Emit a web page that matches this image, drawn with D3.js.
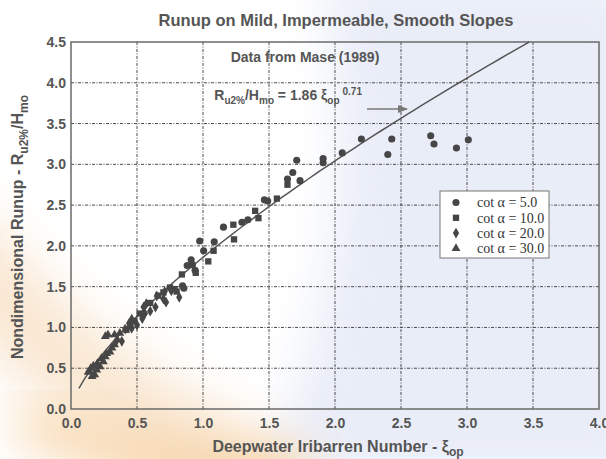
<!DOCTYPE html>
<html>
<head>
<meta charset="utf-8">
<script src="https://cdn.jsdelivr.net/npm/d3@7"></script>
<style>
  body { margin: 0; background: #fff; }
  svg { display: block; }
</style>
</head>
<body>
<div id="chart"></div>
<script>
// Data: [xi_op, Ru2%/Hmo]
var cot5 = [[3.01, 3.30], [2.92, 3.20], [2.75, 3.25], [2.725, 3.35], [2.43, 3.31], [2.40, 3.12],
    [2.20, 3.31], [2.055, 3.14], [1.91, 3.07], [1.91, 3.02], [1.71, 3.05], [1.735, 2.80],
    [1.68, 2.90], [1.64, 2.82], [1.465, 2.565], [1.49, 2.55], [1.34, 2.32], [1.295, 2.29],
    [1.155, 2.23], [0.975, 2.06], [1.085, 2.05], [1.005, 1.94], [0.91, 1.83], [0.92, 1.77],
    [0.88, 1.76], [0.94, 1.70], [0.845, 1.51], [0.855, 1.48]];
var cot10 = [[1.64, 2.75], [1.56, 2.58], [1.395, 2.43], [1.42, 2.34], [1.23, 2.26], [1.235, 2.08],
    [1.08, 1.94], [1.04, 1.81], [0.945, 1.67], [0.84, 1.65], [0.785, 1.47], [0.80, 1.44],
    [0.75, 1.49], [0.70, 1.43], [0.66, 1.39], [0.60, 1.30], [0.52, 1.17], [0.48, 1.08],
    [0.45, 1.03], [0.42, 0.97]];
var cot20 = [[0.82, 1.37], [0.71, 1.44], [0.70, 1.35], [0.72, 1.31], [0.65, 1.385], [0.57, 1.29],
    [0.64, 1.25], [0.55, 1.25], [0.56, 1.17], [0.54, 1.11], [0.50, 1.03], [0.46, 1.10],
    [0.44, 1.05], [0.46, 0.99], [0.41, 0.98], [0.385, 0.83], [0.35, 0.85], [0.60, 1.20],
    [0.76, 1.45]];
var cot30 = [[0.37, 0.93], [0.33, 0.91], [0.28, 0.91], [0.26, 0.89], [0.295, 0.70], [0.26, 0.64],
    [0.245, 0.58], [0.22, 0.52], [0.195, 0.48], [0.18, 0.42], [0.16, 0.40], [0.14, 0.46],
    [0.13, 0.45], [0.15, 0.50], [0.17, 0.53], [0.20, 0.56], [0.23, 0.62], [0.27, 0.68],
    [0.31, 0.75], [0.33, 0.79]];

var legendLabels = ["cot \u03b1 = 5.0", "cot \u03b1 = 10.0", "cot \u03b1 = 20.0", "cot \u03b1 = 30.0"];
var xTicks = [0, 0.5, 1, 1.5, 2, 2.5, 3, 3.5, 4];
var yTicks = [0, 0.5, 1, 1.5, 2, 2.5, 3, 3.5, 4, 4.5];

// Tilpasset kurve: R = 1.86 * xi^0.71
var fitA = 1.86, fitB = 0.71;
var fitStart = 0.06;

var w = 606;
var h = 459;
var margin = { left: 71, top: 42, right: 7, bottom: 50 };
var width = w - margin.left - margin.right,
    height = h - margin.top - margin.bottom;

var svg = d3.select("#chart")
    .append("svg")
    .attr("width", w)
    .attr("height", h);

// Baggrund (vandmærke-farver)
var defs = svg.append("defs");
defs.append("filter").attr("id", "blur")
    .attr("x", "-50%").attr("y", "-50%").attr("width", "200%").attr("height", "200%")
    .append("feGaussianBlur").attr("stdDeviation", 24);

var bg = svg.append("g");
bg.append("rect").attr("width", w).attr("height", h).attr("fill", "#ffffff");
bg.append("path")
    .attr("d", "M260,480 C330,330 360,160 320,-20 L640,-20 L640,480 Z")
    .attr("fill", "#e9edf8")
    .attr("filter", "url(#blur)");
bg.append("path")
    .attr("d", "M-60,230 C20,330 120,420 300,500")
    .attr("fill", "none")
    .attr("stroke", "#f8e2c8")
    .attr("stroke-width", 90)
    .attr("opacity", 0.8)
    .attr("filter", "url(#blur)");
bg.append("path")
    .attr("d", "M20,420 C90,450 160,465 300,480")
    .attr("fill", "none")
    .attr("stroke", "#f5c88e")
    .attr("stroke-width", 40)
    .attr("opacity", 0.7)
    .attr("filter", "url(#blur)");

var xScale = d3.scaleLinear().domain([0, 4]).range([0, width]),
    yScale = d3.scaleLinear().domain([0, 4.5]).range([height, 0]);

var g = svg.append("g")
    .attr("transform", "translate(" + margin.left + "," + margin.top + ")");

var textColor = "#555";

// Gitterlinjer
g.append("g").selectAll("line")
    .data(xTicks.slice(1, -1))
    .enter().append("line")
    .attr("x1", function (d) { return xScale(d); })
    .attr("x2", function (d) { return xScale(d); })
    .attr("y1", 0).attr("y2", height)
    .attr("stroke", "#4a4a4a")
    .attr("stroke-width", 1)
    .attr("stroke-dasharray", "3,1.5,1,1.5");
g.append("g").selectAll("line")
    .data(yTicks.slice(1, -1))
    .enter().append("line")
    .attr("y1", function (d) { return yScale(d); })
    .attr("y2", function (d) { return yScale(d); })
    .attr("x1", 0).attr("x2", width)
    .attr("stroke", "#4a4a4a")
    .attr("stroke-width", 1)
    .attr("stroke-dasharray", "3,1.5,1,1.5");

// Ramme
g.append("rect")
    .attr("width", width).attr("height", height)
    .attr("fill", "none")
    .attr("stroke", "#6a6a6a")
    .attr("stroke-width", 1.5);

// Akser
var xAxis = g.append("g")
    .attr("transform", "translate(0," + height + ")")
    .call(d3.axisBottom(xScale).tickValues(xTicks).tickFormat(d3.format(".1f")).tickSize(0).tickPadding(9));
var yAxis = g.append("g")
    .call(d3.axisLeft(yScale).tickValues(yTicks).tickFormat(d3.format(".1f")).tickSize(0).tickPadding(5));
[xAxis, yAxis].forEach(function (a) {
    a.select(".domain").remove();
    a.selectAll("text")
        .style("font-family", "'Liberation Sans', Arial, sans-serif")
        .style("font-weight", "bold")
        .style("font-size", "14px")
        .attr("fill", textColor);
});

// Kurven
var fitXs = [fitStart];
for (var v = 0.1; v < 4; v += 0.05) { fitXs.push(v); }
var fitData = fitXs.map(function (x) { return [x, fitA * Math.pow(x, fitB)]; })
    .filter(function (d) { return d[1] <= 4.5; });
fitData.push([Math.pow(4.5 / fitA, 1 / fitB), 4.5]);

var line = d3.line()
    .x(function (d) { return xScale(d[0]); })
    .y(function (d) { return yScale(d[1]); });

g.append("path")
    .datum(fitData)
    .attr("d", line)
    .attr("fill", "none")
    .attr("stroke", "#555")
    .attr("stroke-width", 1.5);

// Datapunkter
var series = [
    { data: cot5, type: d3.symbolCircle, size: 40 },
    { data: cot10, type: d3.symbolSquare, size: 40 },
    { data: cot20, type: d3.symbolDiamond, size: 34 },
    { data: cot30, type: d3.symbolTriangle, size: 34 }
];
var markColor = "#464646";

series.forEach(function (s) {
    g.append("g").selectAll("path")
        .data(s.data)
        .enter().append("path")
        .attr("d", d3.symbol().type(s.type).size(s.size))
        .attr("transform", function (d) { return "translate(" + xScale(d[0]) + "," + yScale(d[1]) + ")"; })
        .attr("fill", markColor);
});

// Titler
var sans = "'Liberation Sans', Arial, sans-serif";
svg.append("text")
    .attr("x", 336).attr("y", 26)
    .attr("text-anchor", "middle")
    .style("font-family", sans).style("font-weight", "bold").style("font-size", "16.5px")
    .attr("fill", textColor)
    .text("Runup on Mild, Impermeable, Smooth Slopes");

svg.append("text")
    .attr("x", 305).attr("y", 62)
    .attr("text-anchor", "middle")
    .style("font-family", sans).style("font-weight", "bold").style("font-size", "14px")
    .attr("fill", textColor)
    .text("Data from Mase (1989)");

// Formel
var eq = svg.append("text")
    .attr("x", 362).attr("y", 100)
    .attr("text-anchor", "end")
    .style("font-family", sans).style("font-weight", "bold").style("font-size", "14px")
    .attr("fill", textColor);
eq.append("tspan").text("R");
eq.append("tspan").attr("dy", 4).style("font-size", "10px").text("u2%");
eq.append("tspan").attr("dy", -4).text("/H");
eq.append("tspan").attr("dy", 4).style("font-size", "10px").text("mo");
eq.append("tspan").attr("dy", -4).text(" = 1.86 \u03be");
eq.append("tspan").attr("dy", 4).style("font-size", "10px").text("op");
eq.append("tspan").attr("dy", -9).attr("dx", 3).style("font-size", "10px").text("0.71");

// Pil
defs.append("marker").attr("id", "arrow")
    .attr("viewBox", "0 0 10 10").attr("refX", 9).attr("refY", 5)
    .attr("markerWidth", 7).attr("markerHeight", 7).attr("orient", "auto")
    .append("path").attr("d", "M0,1 L10,5 L0,9 Z").attr("fill", "#777");
svg.append("line")
    .attr("x1", 367).attr("x2", 407).attr("y1", 109).attr("y2", 109)
    .attr("stroke", "#777").attr("stroke-width", 1.5)
    .attr("marker-end", "url(#arrow)");

// Aksetitler
var xt = svg.append("text")
    .attr("x", 338).attr("y", 452)
    .attr("text-anchor", "middle")
    .style("font-family", sans).style("font-weight", "bold").style("font-size", "16px")
    .attr("fill", textColor);
xt.append("tspan").text("Deepwater Iribarren Number - \u03be");
xt.append("tspan").attr("dy", 4).style("font-size", "12px").text("op");

var yt = svg.append("text")
    .attr("transform", "translate(23,227) rotate(-90)")
    .attr("text-anchor", "middle")
    .style("font-family", sans).style("font-weight", "bold").style("font-size", "16px")
    .attr("fill", textColor);
yt.append("tspan").text("Nondimensional Runup - R");
yt.append("tspan").attr("dy", 5).style("font-size", "12px").text("u2%");
yt.append("tspan").attr("dy", -5).text("/H");
yt.append("tspan").attr("dy", 5).style("font-size", "12px").text("mo");

// Signaturforklaring
var legend = svg.append("g");
legend.append("rect")
    .attr("x", 440).attr("y", 191).attr("width", 109).attr("height", 67)
    .attr("fill", "#fff").attr("stroke", "#777").attr("stroke-width", 1);
series.forEach(function (s, i) {
    var yy = 202.5 + i * 15.3;
    legend.append("path")
        .attr("d", d3.symbol().type(s.type).size(s.size))
        .attr("transform", "translate(456," + yy + ")")
        .attr("fill", markColor);
    legend.append("text")
        .attr("x", 477).attr("y", yy).attr("dy", "0.35em")
        .style("font-family", "'Liberation Serif', 'Times New Roman', serif")
        .style("font-size", "14px")
        .attr("fill", "#333")
        .text(legendLabels[i]);
});
</script>
</body>
</html>
